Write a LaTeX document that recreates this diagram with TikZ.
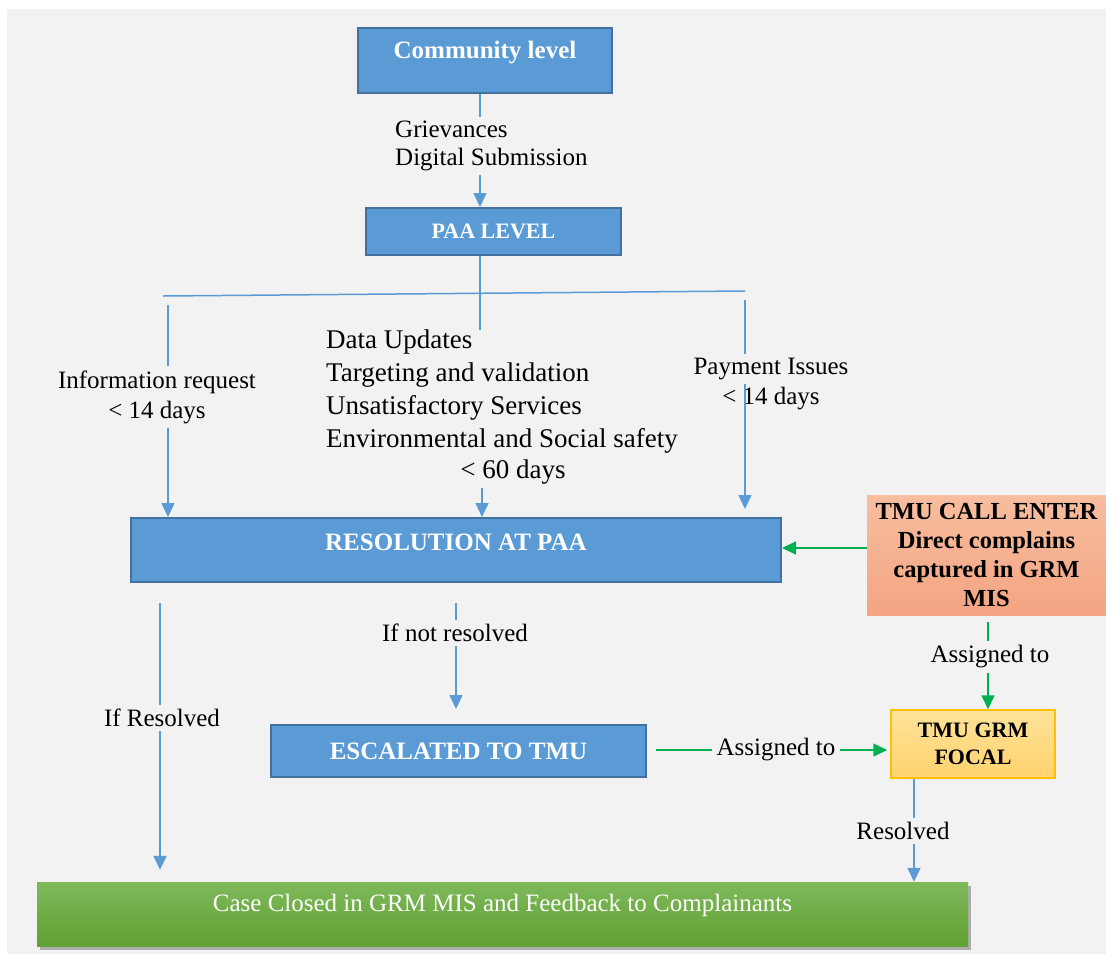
\documentclass[tikz,border=0pt]{standalone}
\usepackage{fontspec}
\setmainfont{Liberation Serif}
\usetikzlibrary{arrows.meta,shadows}
\definecolor{pagegray}{HTML}{F2F2F2}
\definecolor{boxblue}{HTML}{5B9BD5}
\definecolor{boxrim}{HTML}{41719C}
\definecolor{linkblue}{HTML}{5B9BD5}
\definecolor{linkgreen}{HTML}{00B050}
\definecolor{salmontop}{HTML}{F7BE9F}
\definecolor{salmonbot}{HTML}{F4A482}
\definecolor{focaltop}{HTML}{FFE299}
\definecolor{focalbot}{HTML}{FFD36E}
\definecolor{focalrim}{HTML}{FFC000}
\definecolor{closedtop}{HTML}{7EB95A}
\definecolor{closedbot}{HTML}{60A033}
\tikzset{
  bluebox/.style={draw=boxrim, fill=boxblue, line width=2pt, text=white, inner sep=0pt,
    font=\bfseries\fontsize{25}{30}\selectfont},
  lbl/.style={inner sep=4pt, align=center, font=\fontsize{25}{30}\selectfont},
  callbox/.style={top color=salmontop, bottom color=salmonbot, draw=none, inner sep=0pt,
    align=center, font=\bfseries\fontsize{24.5}{29}\selectfont},
  focalbox/.style={top color=focaltop, bottom color=focalbot, draw=focalrim, line width=1.5pt,
    inner sep=0pt, align=center, font=\bfseries\fontsize{22}{27}\selectfont},
  closedbox/.style={top color=closedtop, bottom color=closedbot, draw=none, inner sep=0pt,
    text=white, font=\fontsize{25}{30}\selectfont,
    drop shadow={shadow xshift=3pt, shadow yshift=-4pt, opacity=0.6}},
  bline/.style={draw=linkblue, line width=1.5pt},
  barrow/.style={bline, -{Triangle[width=13pt,length=14pt]}},
  gline/.style={draw=linkgreen, line width=1.5pt},
  garrow/.style={gline, -{Triangle[width=13pt,length=14pt]}}
}
\begin{document}
\begin{tikzpicture}[x=1pt,y=-1pt]
\useasboundingbox (0,0) rectangle (1106,954);
\fill [pagegray] (7,9) rectangle (1106,954);

\node [bluebox, minimum width=254pt, minimum height=65pt, text height=22.75pt, text depth=27.25pt] (community) at (485,60.5) {Community level};
\node [lbl, align=left, anchor=west, font=\fontsize{25}{28}\selectfont] (griev) at (391,146) {Grievances\\Digital Submission};
\node [bluebox, minimum width=255pt, minimum height=47pt, font=\bfseries\fontsize{22}{26}\selectfont] (paa) at (493.5,231.5) {PAA LEVEL};
\node [lbl] (info) at (157,397) {Information request\\< 14 days};
\node [lbl, align=left, anchor=west, font=\fontsize{27}{33}\selectfont] (cats) at (322,392) {Data Updates\\Targeting and validation\\Unsatisfactory Services\\Environmental and Social safety};
\node [lbl, font=\fontsize{27}{33}\selectfont] (sixty) at (513,472) {< 60 days};
\node [lbl] (pay) at (771,384) {Payment Issues\\< 14 days};
\node [bluebox, minimum width=650pt, minimum height=64pt, text height=25.25pt, text depth=24.75pt] (resolution) at (456,550) {RESOLUTION AT PAA};
\node [callbox, minimum width=239pt, minimum height=120pt] (tmucall) at (986.5,555) {TMU CALL ENTER\\Direct complains\\captured in GRM\\MIS};
\node [lbl] (asg1) at (990,657) {Assigned to};
\node [lbl] (ifres) at (162,718) {If Resolved};
\node [lbl] (ifnot) at (455,633) {If not resolved};
\node [bluebox, minimum width=375pt, minimum height=52pt] (escalated) at (458.5,751) {ESCALATED TO TMU};
\node [lbl] (asg2) at (776,750) {Assigned to};
\node [focalbox, minimum width=164pt, minimum height=68pt] (tmufocal) at (973,744) {TMU GRM\\FOCAL};
\node [lbl] (resolved) at (903,831) {Resolved};
\node [closedbox, minimum width=931pt, minimum height=64pt, text height=22.25pt, text depth=27.75pt] (closed) at (502.5,914) {Case Closed in GRM MIS and Feedback to Complainants};

\coordinate (spine) at (480,330);
\coordinate (forkL) at (163,296);
\coordinate (forkR) at (745,291);
\coordinate (axL) at (168,305);
\coordinate (axM) at (482,0);
\coordinate (axR) at (745,300);
\coordinate (axG) at (988,0);
\coordinate (axB) at (160,0);
\coordinate (axN) at (456,0);
\coordinate (axF) at (914,0);
\coordinate (rowG) at (0,548);

\draw [bline] (community.south -| spine) -- (griev.north -| spine);
\draw [barrow] (griev.south -| spine) -- (paa.north -| spine);
\draw [bline] (paa.south -| spine) -- (spine);
\draw [bline] (forkL) -- (forkR);
\draw [bline] (axL) -- (info.north -| axL);
\draw [barrow] (info.south -| axL) -- (resolution.north -| axL);
\draw [barrow] (sixty.south -| axM) -- (resolution.north -| axM);
\draw [bline] (axR) -- (pay.north -| axR);
\draw [barrow, shorten >=8pt] (pay.center -| axR) -- (resolution.north -| axR);
\draw [garrow] (tmucall.west |- rowG) -- (resolution.east |- rowG);
\draw [gline, shorten <=7pt] (tmucall.south -| axG) -- (asg1.north -| axG);
\draw [garrow] (asg1.south -| axG) -- (tmufocal.north -| axG);
\draw [bline, shorten <=20pt] (resolution.south -| axB) -- (ifres.north -| axB);
\draw [barrow, shorten >=12pt] (ifres.south -| axB) -- (closed.north -| axB);
\draw [bline, shorten <=20pt] (resolution.south -| axN) -- (ifnot.north -| axN);
\draw [barrow, shorten >=15pt] (ifnot.south -| axN) -- (escalated.north -| axN);
\draw [gline, shorten <=9pt] (escalated.east |- asg2) -- (asg2.west);
\draw [garrow, shorten >=3pt] (asg2.east) -- (tmufocal.west |- asg2);
\draw [bline] (tmufocal.south -| axF) -- (resolved.north -| axF);
\draw [barrow] (resolved.south -| axF) -- (closed.north -| axF);
\end{tikzpicture}
\end{document}
